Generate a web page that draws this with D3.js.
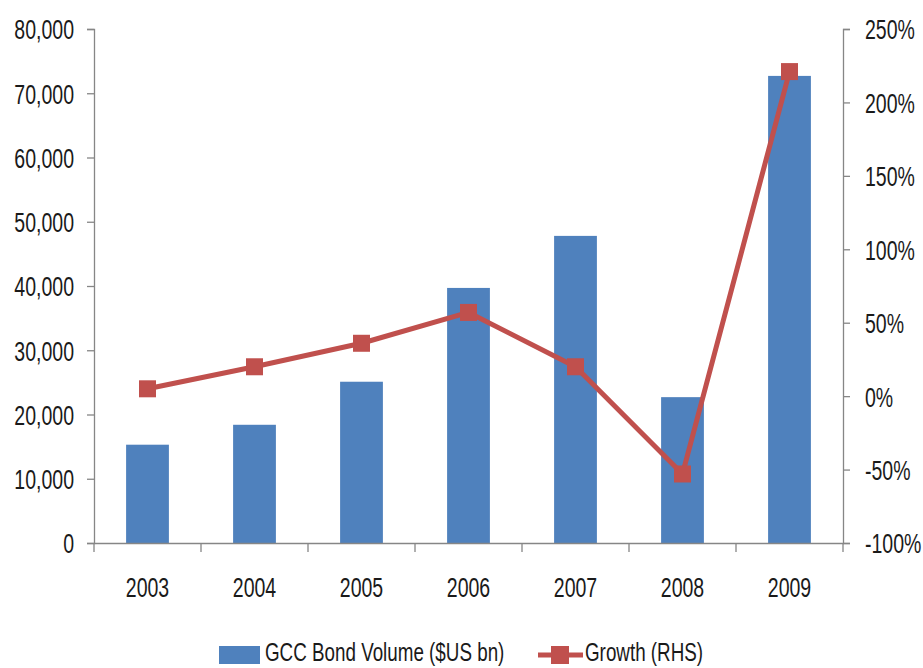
<!DOCTYPE html>
<html><head><meta charset="utf-8">
<script src="https://cdn.jsdelivr.net/npm/d3@7"></script>
<style>
body{margin:0;background:#fff;}
text{font-family:"Liberation Sans",Arial,sans-serif;fill:#1a1a1a;}
</style></head>
<body>
<svg id="c" width="923" height="668"></svg>
<script>
const years = ["2003","2004","2005","2006","2007","2008","2009"];
const bondVolume = [15300, 18400, 25100, 39700, 47800, 22700, 72700];
const growth = [5, 20, 36, 57, 20, -53, 221];
const leftTicks = [0,10000,20000,30000,40000,50000,60000,70000,80000];
const rightTicks = [-100,-50,0,50,100,150,200,250];

const svg = d3.select("#c");
const L = 94, R = 843, T = 29, B = 543;
const axisColor = "#868686";
const barColor = "#4F81BD", lineColor = "#C0504D";
const FS = "27.5px", SX = 0.71;

// horizontally condense a text element while keeping its anchor position
function condense(sel, fs){
  sel.each(function(){
    const t = d3.select(this);
    const xv = +(t.attr("x") || 0);
    t.attr("x", xv / SX).attr("transform", `scale(${SX},1)`)
     .attr("font-size", fs || FS).style("font-family", '"Liberation Sans",Arial,sans-serif').attr("fill","#1a1a1a");
  });
}

const x = d3.scaleBand().domain(years).range([L,R]).paddingInner(0.6).paddingOuter(0.3);
const xCat = d3.scaleBand().domain(years).range([L,R]);
const yL = d3.scaleLinear().domain([0,80000]).range([B,T]);
const yR = d3.scaleLinear().domain([-100,250]).range([B,T]);

// bars
svg.append("g").selectAll("rect").data(years).join("rect")
  .attr("x", d=>x(d)).attr("width", x.bandwidth())
  .attr("y", (d,i)=>yL(bondVolume[i])).attr("height",(d,i)=>B-yL(bondVolume[i]))
  .attr("fill", barColor);

// left axis
const gL = svg.append("g").attr("transform",`translate(${L},0)`)
  .call(d3.axisLeft(yL).tickValues(leftTicks).tickFormat(d3.format(",")).tickSize(7).tickPadding(13));
// right axis
const gR = svg.append("g").attr("transform",`translate(${R},0)`)
  .call(d3.axisRight(yR).tickValues(rightTicks).tickFormat(d=>d+"%").tickSize(7).tickPadding(15));
// x axis
const gX = svg.append("g").attr("transform",`translate(0,${B})`)
  .call(d3.axisBottom(xCat).tickSize(0));
gX.selectAll("text").attr("y", 54).attr("dy", 0);
// category boundary ticks
svg.append("g").selectAll("line").data(d3.range(years.length+1)).join("line")
  .attr("x1", i=>L+i*xCat.step()).attr("x2", i=>L+i*xCat.step())
  .attr("y1", B).attr("y2", B+9).attr("stroke", axisColor).attr("stroke-width",1.3);

[gL,gR,gX].forEach(g=>{
  g.selectAll(".domain").attr("stroke",axisColor).attr("stroke-width",1.3);
  g.selectAll(".tick line").attr("stroke",axisColor).attr("stroke-width",1.3);
  condense(g.selectAll("text"));
});
gL.selectAll("text").attr("dy","0.36em");
gR.selectAll("text").attr("dy","0.36em");

// growth line
const cx = d=> x(d)+x.bandwidth()/2;
const line = d3.line().x((d,i)=>cx(years[i])).y(d=>yR(d));
svg.append("path").datum(growth).attr("d",line).attr("fill","none")
  .attr("stroke",lineColor).attr("stroke-width",5).attr("stroke-linejoin","round");
svg.append("g").selectAll("rect").data(growth).join("rect")
  .attr("x",(d,i)=>cx(years[i])-8.5).attr("y",d=>yR(d)-8.5)
  .attr("width",17).attr("height",17).attr("fill",lineColor);

// legend
const lg = svg.append("g");
lg.append("rect").attr("x",219).attr("y",646).attr("width",41).attr("height",18).attr("fill",barColor);
lg.append("text").attr("x",265).attr("y",661).text("GCC Bond Volume ($US bn)").call(condense, "26.5px");
lg.append("line").attr("x1",538).attr("x2",583).attr("y1",655).attr("y2",655).attr("stroke",lineColor).attr("stroke-width",5);
lg.append("rect").attr("x",551).attr("y",646).attr("width",18).attr("height",18).attr("fill",lineColor);
lg.append("text").attr("x",585).attr("y",661).text("Growth (RHS)").call(condense, "26.5px");
</script>
</body></html>
